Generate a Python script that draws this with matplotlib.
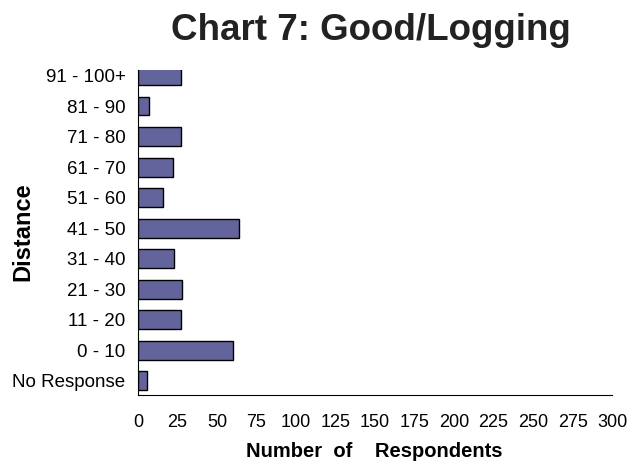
import matplotlib
matplotlib.use("Agg")
import matplotlib.pyplot as plt

plt.rcParams['font.family'] = ['Liberation Sans', 'DejaVu Sans']

categories = ["No Response", "0 - 10", "11 - 20", "21 - 30", "31 - 40", "41 - 50",
              "51 - 60", "61 - 70", "71 - 80", "81 - 90", "91 - 100+"]
respondents = [6, 60, 27, 28, 23, 64, 16, 22, 27, 7, 27]
x_ticks = list(range(0, 301, 25))

fig = plt.figure(figsize=(6.31, 4.61), dpi=100)
ax = fig.add_axes([0.2187, 0.1432, 0.7513, 0.7050])

ax.barh(range(len(categories)), respondents, height=0.62,
        color='#64649c', edgecolor='black', linewidth=1.0)

ax.set_xlim(0, 300)
ax.set_ylim(-0.46, 10.18)
ax.set_xticks(x_ticks)
ax.set_yticks(range(len(categories)))
ax.set_yticklabels(categories)
ax.tick_params(axis='both', length=0, labelsize=13)
ax.tick_params(axis='y', pad=9, labelsize=13.5)
ax.tick_params(axis='x', pad=14)

for side in ['top', 'right']:
    ax.spines[side].set_visible(False)
for side in ['left', 'bottom']:
    ax.spines[side].set_linewidth(0.8)

fig.text(0.588, 0.913, "Chart 7: Good/Logging", fontsize=26.5, fontweight='bold',
         ha='center', va='baseline', color='#222222')
fig.text(0.593, 0.009, "Number  of    Respondents", fontsize=14.5, fontweight='bold',
         ha='center', va='baseline')
fig.text(0.037, 0.497, "Distance", fontsize=17, fontweight='bold',
         ha='center', va='center', rotation=90)

fig.savefig("out.png", dpi=100)
